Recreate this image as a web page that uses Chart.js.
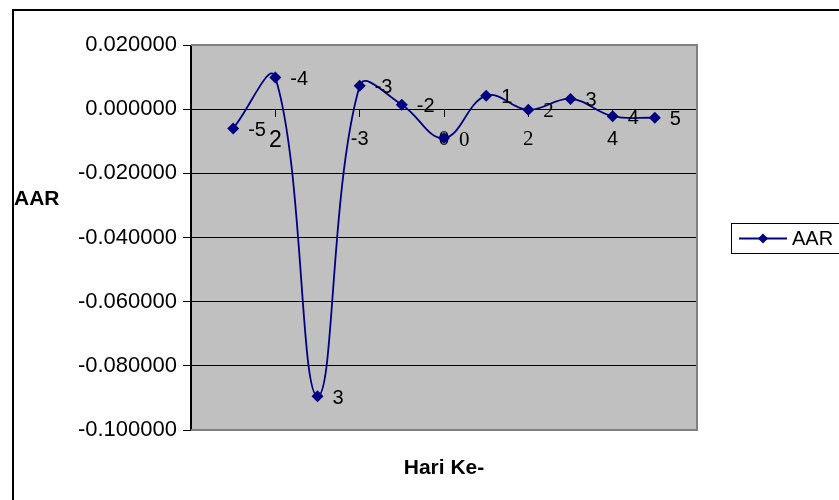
<!DOCTYPE html>
<html><head><meta charset="utf-8">
<script src="https://cdn.jsdelivr.net/npm/chart.js@4.4.0/dist/chart.umd.min.js"></script>
<style>html,body{margin:0;padding:0;background:#fff;}canvas{display:block;}</style>
</head><body>
<canvas id="c" width="839" height="500"></canvas>
<script>
// ---- data ----
const dayIndex = [1, 2, 3, 4, 5, 6, 7, 8, 9, 10, 11];
const aarValues = [-0.0060, 0.0099, -0.0895, 0.0073, 0.0014, -0.0090, 0.0042, -0.0002, 0.0032, -0.0022, -0.0027];
const pointLabels = ["-5", "-4", "3", "-3", "-2", "0", "1", "2", "3", "4", "5"];
const xTickValues = [0, 2, 4, 6, 8, 10, 12];
const xTickLabels = ["", "2", "-3", "0", "2", "4", ""];
const yTickValues = [0.02, 0, -0.02, -0.04, -0.06, -0.08, -0.1];
const seriesName = "AAR";
const yTitle = "AAR";
const xTitle = "Hari Ke-";

const SANS = "'Liberation Sans', Arial, sans-serif";
const SERIF = "'Liberation Serif', 'Times New Roman', serif";
const NAVY = '#000080';

const serifPointLabels = new Set([5, 7]);
const xTickFonts = {
  2: {family: SANS, size: 23, lineHeight: 1},
  4: {family: SANS, size: 20, lineHeight: 1},
  6: {family: SERIF, size: 21, lineHeight: 1},
  8: {family: SERIF, size: 21, lineHeight: 1},
  10: {family: SANS, size: 20, lineHeight: 1}
};

const decor = {
  id: 'decor',
  beforeDraw(chart) {
    const {ctx, chartArea: a} = chart;
    ctx.save();
    ctx.fillStyle = '#fff';
    ctx.fillRect(0, 0, chart.width, chart.height);
    ctx.fillStyle = '#c0c0c0';
    ctx.fillRect(a.left, a.top, a.right - a.left, a.bottom - a.top);
    ctx.strokeStyle = '#000';
    ctx.lineWidth = 2;
    ctx.strokeRect(13, 10, 900, 600);
    ctx.restore();
  },
  beforeDatasetsDraw(chart) {
    const {ctx, chartArea: a} = chart;
    ctx.save();
    ctx.strokeStyle = '#808080';
    ctx.lineWidth = 2;
    ctx.beginPath();
    ctx.moveTo(a.left, a.top);
    ctx.lineTo(a.right, a.top);
    ctx.lineTo(a.right, a.bottom);
    ctx.lineTo(a.left, a.bottom);
    ctx.stroke();
    ctx.strokeStyle = '#000';
    ctx.lineWidth = 1;
    ctx.beginPath();
    ctx.moveTo(a.left - 0.5, a.top);
    ctx.lineTo(a.left - 0.5, a.bottom);
    ctx.stroke();
    ctx.restore();
  },
  afterDatasetsDraw(chart) {
    const {ctx, chartArea: a} = chart;
    const meta = chart.getDatasetMeta(0);
    ctx.save();
    ctx.fillStyle = '#000';
    ctx.textAlign = 'left';
    ctx.textBaseline = 'middle';
    meta.data.forEach((pt, i) => {
      ctx.font = serifPointLabels.has(i) ? `21px ${SERIF}` : `20px ${SANS}`;
      ctx.fillText(pointLabels[i], pt.x + 15, pt.y + 2);
    });
    // axis titles
    ctx.font = `bold 21px ${SANS}`;
    ctx.textAlign = 'left';
    ctx.fillText(yTitle, 14, 199);
    ctx.textAlign = 'center';
    ctx.fillText(xTitle, (a.left + a.right) / 2, 468);
    // legend
    ctx.strokeStyle = '#000';
    ctx.lineWidth = 1;
    ctx.strokeRect(731.5, 223.5, 140, 30);
    ctx.strokeStyle = NAVY;
    ctx.lineWidth = 2;
    ctx.beginPath();
    ctx.moveTo(739, 238.5);
    ctx.lineTo(787, 238.5);
    ctx.stroke();
    ctx.fillStyle = NAVY;
    ctx.beginPath();
    ctx.moveTo(763, 233.5); ctx.lineTo(768, 238.5); ctx.lineTo(763, 243.5); ctx.lineTo(758, 238.5);
    ctx.closePath(); ctx.fill();
    ctx.fillStyle = '#000';
    ctx.font = `20px ${SANS}`;
    ctx.textAlign = 'left';
    ctx.fillText(seriesName, 792, 239);
    ctx.restore();
  }
};

new Chart(document.getElementById('c'), {
  type: 'line',
  data: {
    datasets: [{
      label: seriesName,
      data: dayIndex.map((d, i) => ({x: d, y: aarValues[i]})),
      borderColor: NAVY,
      backgroundColor: NAVY,
      borderWidth: 1.8,
      tension: 0.4,
      pointStyle: 'rectRot',
      pointRadius: 6,
      pointBorderWidth: 0,
      pointBackgroundColor: NAVY,
      fill: false
    }]
  },
  options: {
    responsive: false,
    animation: false,
    devicePixelRatio: 1,
    layout: {padding: {left: 0, top: 45, right: 142, bottom: 70}},
    plugins: {legend: {display: false}, tooltip: {enabled: false}, title: {display: false}},
    scales: {
      x: {
        type: 'linear',
        position: {y: 0},
        min: 0, max: 12,
        afterBuildTicks: s => { s.ticks = xTickValues.map(v => ({value: v})); },
        ticks: {
          autoSkip: false, maxRotation: 0, color: '#000', padding: 13,
          callback: v => { const k = xTickValues.indexOf(v); return k >= 0 ? xTickLabels[k] : ''; },
          font: ctx => (ctx.tick && xTickFonts[ctx.tick.value]) || {family: SANS, size: 20, lineHeight: 1}
        },
        grid: {drawOnChartArea: false, drawTicks: true, tickLength: 7, tickColor: '#000', color: '#000'},
        border: {display: true, color: '#000', width: 1}
      },
      y: {
        type: 'linear',
        position: 'left',
        min: -0.1, max: 0.02,
        afterBuildTicks: s => { s.ticks = yTickValues.map(v => ({value: v})); },
        afterFit: s => { s.width = 191; },
        ticks: {
          color: '#000', padding: 6,
          font: {family: SANS, size: 22},
          callback: v => (Math.abs(v) < 1e-12 ? 0 : v).toFixed(6)
        },
        grid: {
          color: ctx => (ctx.tick && (Math.abs(ctx.tick.value - 0.02) < 1e-9 || Math.abs(ctx.tick.value + 0.1) < 1e-9)) ? '#808080' : '#000',
          lineWidth: 1, tickLength: 8, tickColor: '#000', drawTicks: true
        },
        border: {display: true, color: '#000', width: 1}
      }
    }
  },
  plugins: [decor]
});
</script>
</body></html>
